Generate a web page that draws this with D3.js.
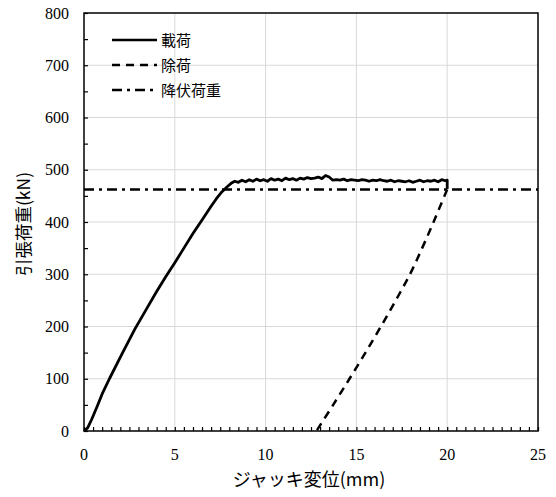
<!DOCTYPE html>
<html><head><meta charset="utf-8">
<script src="https://cdn.jsdelivr.net/npm/d3@7"></script>
<style>body{margin:0;background:#fff}
.num{font-family:"Times New Roman","Liberation Serif",Tinos,"Nimbus Roman","Noto Serif","DejaVu Serif",serif;font-size:16px;fill:#000}
.jp{font-family:"Noto Sans CJK JP","Noto Sans",sans-serif;fill:#000}
</style></head>
<body><svg id="c" width="556" height="497"></svg>
<script>
const xTicks = [0,5,10,15,20,25];
const yTicks = [0,100,200,300,400,500,600,700,800];
const seriesNames = ["載荷","除荷","降伏荷重"];
const yieldLoad = 462;
const loadX = [0,0.2,0.42,0.7,1.0,1.4,2.1,2.8,3.5,4,4.5,5,5.5,6,6.5,7,7.3,7.6,7.9,8.1,8.3,8.5,8.7,8.9,9.1,9.3,9.5,9.7,9.9,10.1,10.3,10.5,10.7,10.9,11.1,11.3,11.5,11.7,11.9,12.1,12.3,12.5,12.7,12.9,13.1,13.3,13.5,13.7,13.9,14.1,14.3,14.5,14.7,14.9,15.1,15.3,15.5,15.7,15.9,16.1,16.3,16.5,16.7,16.9,17.1,17.3,17.5,17.7,17.9,18.1,18.3,18.5,18.7,18.9,19.1,19.3,19.5,19.7,19.9,20,20];
const loadY = [0,6,22,45,71,100,148,195,237,267,295,322,350,378,404,430,445,458,468,474,478,476,480,477,481,478,482,479,481,478,483,480,482,479,484,481,483,480,484,482,485,483,484,486,483,489,486,480,481,480,482,479,481,480,479,481,480,478,480,479,481,479,478,480,477,479,478,477,479,476,478,480,477,479,478,480,477,481,479,480,463];
const unloadX = [20,19.85,19.25,18.62,17.95,17.17,16.35,15.5,14.62,13.72,12.8];
const unloadY = [462,450,400,350,300,250,200,150,100,50,0];

const svg = d3.select("#c");
const L=84, R=538, T=13, B=431;
const x = d3.scaleLinear().domain([0,25]).range([L,R]);
const y = d3.scaleLinear().domain([0,800]).range([B,T]);

svg.append("g").selectAll("line").data(xTicks.slice(1,-1)).join("line")
  .attr("x1",d=>x(d)).attr("x2",d=>x(d)).attr("y1",T).attr("y2",B)
  .attr("stroke","#d9d9d9").attr("stroke-width",1);
svg.append("g").selectAll("line").data(yTicks.slice(1,-1)).join("line")
  .attr("y1",d=>y(d)).attr("y2",d=>y(d)).attr("x1",L).attr("x2",R)
  .attr("stroke","#d9d9d9").attr("stroke-width",1);

const xMinor = d3.range(0,25.01,0.5);
const yMinor = d3.range(0,800.1,50);

const xAxis = d3.axisBottom(x).tickValues(xMinor).tickSize(-4).tickFormat("");
svg.append("g").attr("transform",`translate(0,${B})`).call(xAxis)
  .call(g=>{g.select(".domain").remove(); g.selectAll("line").attr("stroke","#000").attr("stroke-width",1.2);});
const yAxis = d3.axisLeft(y).tickValues(yMinor).tickSize(-4).tickFormat("");
svg.append("g").attr("transform",`translate(${L},0)`).call(yAxis)
  .call(g=>{g.select(".domain").remove(); g.selectAll("line").attr("stroke","#000").attr("stroke-width",1.2);});

svg.append("g").selectAll("text").data(xTicks).join("text").attr("class","num")
  .attr("x",d=>x(d)).attr("y",B+29).attr("text-anchor","middle").text(d=>d);
svg.append("g").selectAll("text").data(yTicks).join("text").attr("class","num")
  .attr("x",L-15).attr("y",d=>y(d)+5.5).attr("text-anchor","end").text(d=>d);

svg.append("rect").attr("x",L).attr("y",T).attr("width",R-L).attr("height",B-T)
  .attr("fill","none").attr("stroke","#000").attr("stroke-width",1.5);

svg.append("line").attr("x1",L).attr("x2",R).attr("y1",y(yieldLoad)).attr("y2",y(yieldLoad))
  .attr("stroke","#000").attr("stroke-width",2.5).attr("stroke-dasharray","10,5,3,5");

const line = d3.line().x(d=>x(d[0])).y(d=>y(d[1])).curve(d3.curveCatmullRom);
svg.append("path").datum(unloadX.map((v,i)=>[v,unloadY[i]])).attr("d",line)
  .attr("fill","none").attr("stroke","#000").attr("stroke-width",2.5).attr("stroke-dasharray","8,6");
const line2 = d3.line().x(d=>x(d[0])).y(d=>y(d[1]));
svg.append("path").datum(loadX.map((v,i)=>[v,loadY[i]])).attr("d",line2)
  .attr("fill","none").attr("stroke","#000").attr("stroke-width",2.8).attr("stroke-linejoin","round");

const dashes = [null,"8,6","10,5,3,5"];
seriesNames.forEach((n,i)=>{
  const ly = 40 + i*25;
  svg.append("line").attr("x1",112).attr("x2",157).attr("y1",ly).attr("y2",ly)
    .attr("stroke","#000").attr("stroke-width",2.5).attr("stroke-dasharray",dashes[i]);
  svg.append("text").attr("class","jp").attr("x",161).attr("y",ly+5.5).attr("font-size",15).text(n);
});

svg.append("text").attr("class","jp").attr("x",309).attr("y",486).attr("text-anchor","middle")
  .attr("font-size",18).text("ジャッキ変位(mm)");
svg.append("text").attr("class","jp").attr("transform",`translate(30,${224}) rotate(-90)`).attr("text-anchor","middle")
  .attr("font-size",17.5).text("引張荷重(kN)");
</script></body></html>
